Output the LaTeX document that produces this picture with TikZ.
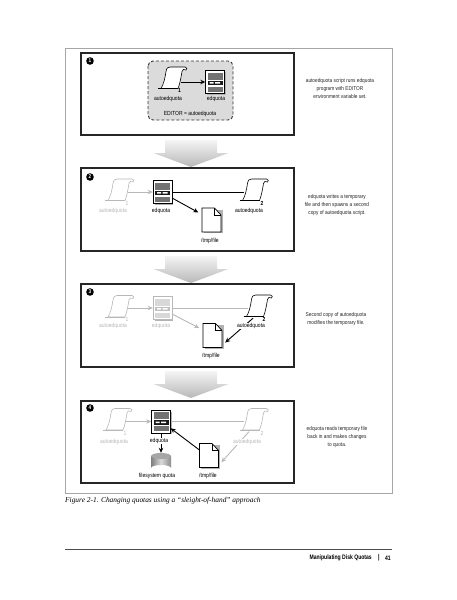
\documentclass[tikz,border=0pt]{standalone}
\usepackage{fontspec}
\setmainfont{Liberation Serif}
\newfontfamily\condfont[FakeStretch=0.85]{Liberation Sans}
\newfontfamily\footfont[FakeStretch=0.78]{Liberation Sans}
\usetikzlibrary{arrows.meta}
\begin{document}
\begin{tikzpicture}[x=1pt, y=-1pt,
    faded/.style={color=black!28},
    iconbox/.style={inner sep=0pt, minimum width=18pt, minimum height=23pt},
    panel/.style={draw=black!85, line width=1.2pt, fill=white},
    lbl/.style={font=\condfont\fontsize{5.9}{7}\selectfont, inner sep=0.5pt},
    note/.style={font=\condfont\fontsize{5.6}{7.8}\selectfont, align=center, inner sep=0pt, text=black!85},
    stepnum/.style={circle, fill=black, text=white, inner sep=0pt, minimum size=7.6pt, font=\condfont\bfseries\fontsize{5.5}{6}\selectfont},
    conn/.style={-{Stealth[length=5pt,width=4.5pt]}, line width=0.9pt},
    scrollicon/.pic={
      \draw [fill=white, line width=0.6pt] (-11,10) .. controls (-8.5,6) and (-7,0) .. (-6,-7) .. controls (-5.5,-10.5) and (-4,-11.5) .. (-2,-11.5) -- (13,-11.5) .. controls (15,-11.5) and (15.5,-9) .. (14,-8.5) .. controls (12,-9.5) and (10.5,-9.5) .. (10,-7) .. controls (9,-1) and (8,5) .. (6,10) -- cycle;
      \draw [line width=1.3pt] (-14,10.3) -- (6,10.3);
    },
    servericon/.pic={
      \fill [black!30] (-8,-10) rectangle (10.5,12.5);
      \draw [fill=white, line width=1pt] (-9.5,-11.5) rectangle (9.5,11.5);
      \fill [.!55] (-7.5,-9.5) rectangle (7.5,-2.5);
      \fill [.!90] (-7.5,-1.5) rectangle (7.5,3);
      \fill [white] (-5.5,0) rectangle (-1.5,1.5) (0,0) rectangle (5,1.5);
      \fill [.!55] (-7.5,4.5) rectangle (7.5,9.5);
    },
    fileicon/.pic={
      \fill [black!30] (-8,-10.5) -- (11,-10.5) -- (11,13) -- (-8,13) -- cycle;
      \draw [fill=white, line width=0.7pt] (-9.5,-12) -- (3,-12) -- (9.5,-5) -- (9.5,12) -- (-9.5,12) -- cycle;
      \draw [line width=0.5pt] (3,-12) -- (3,-5) -- (9.5,-5);
    },
    diskicon/.pic={
      \shade [left color=black!50, right color=black!45, middle color=black!15] (-10,-6) -- (-10,6) arc [start angle=180, end angle=360, x radius=10, y radius=3] -- (10,-6) -- cycle;
      \fill [black!35] (0,-6) ellipse [x radius=10, y radius=3];
    },
    blockarrow/.pic={
      \shade [top color=black!4, bottom color=black!28] (-26,-27) -- (26,-27) -- (26,-14) -- (37.5,-14) -- (0,0) -- (-37.5,-14) -- (-26,-14) -- cycle;
    }]
  \useasboundingbox (0,0) rectangle (457,600);
  \fill [white] (0,0) rectangle (457,600);

  \draw [black!35, line width=0.9pt] (65,48) rectangle (392,493);

  \pic at (191,167) {blockarrow};
  \pic at (191,283) {blockarrow};
  \pic at (191,398) {blockarrow};

  \draw [panel] (81,53) rectangle (294,135);
  \draw [panel] (81,168) rectangle (294,251);
  \draw [panel] (81,284) rectangle (294,367);
  \draw [panel] (81,401) rectangle (294,483);

  \node [stepnum] (numa) at (90,61) {1};
  \node [stepnum] (numb) at (90,177) {2};
  \node [stepnum] (numc) at (90,292) {3};
  \node [stepnum] (numd) at (90,408) {4};

  % panel 1
  \draw [fill=black!14, draw=black!80, line width=0.9pt, densely dashed, rounded corners=5pt] (148,61) rectangle (233,120);
  \node [iconbox] (scripta) at (172,78.5) {};
  \node [iconbox, minimum width=19pt] (edita) at (215,82) {};
  \pic at (scripta) {scrollicon};
  \pic at (edita) {servericon};
  \draw [conn] (scripta.east |- edita) -- (edita.west);
  \node [lbl] (numsa) at (179.5,90) {\bfseries 1};
  \node [lbl] (lblsa) at (168,98.5) {autoedquota};
  \node [lbl] (lblea) at (216,98.5) {edquota};
  \node [lbl] (lbleditor) at (190,114) {EDITOR = autoedquota};
  \node [note] (notea) at (340,88.5) {autoedquota script runs edquota\\program with EDITOR\\environment variable set.};

  % panel 2
  \node [iconbox] (scriptb) at (119,190.5) {};
  \node [iconbox, minimum width=19pt] (editb) at (162.5,192) {};
  \node [iconbox] (scriptbb) at (253.5,190.5) {};
  \node [iconbox, minimum width=19pt, minimum height=24pt] (fileb) at (211.5,220) {};
  \draw [conn, black!28] (scriptb.east |- editb) -- (editb.west);
  \draw [line width=0.9pt] (editb.east) -- (scriptbb.west |- editb);
  \pic [faded] at (scriptb) {scrollicon};
  \pic at (editb) {servericon};
  \pic at (scriptbb) {scrollicon};
  \pic at (fileb) {fileicon};
  \draw [conn, shorten >=4pt] (editb.-32) -- (fileb.150);
  \node [lbl, black!28] (numsb) at (127,203) {1};
  \node [lbl, black!28] (lblsb) at (113,211) {autoedquota};
  \node [lbl] (lbleb) at (161,211) {edquota};
  \node [lbl] (numsbb) at (262,203) {\bfseries 2};
  \node [lbl] (lblsbb) at (249,211) {autoedquota};
  \node [lbl] (lblfb) at (210,241) {/tmp/file};
  \node [note] (noteb) at (337,205) {edquota writes a temporary\\file and then spawns a second\\copy of autoedquota script.};

  % panel 3
  \node [iconbox] (scriptc) at (119,307) {};
  \node [iconbox, minimum width=19pt] (editc) at (162.5,308) {};
  \node [iconbox] (scriptcc) at (257.5,306.5) {};
  \node [iconbox, minimum width=19pt, minimum height=24pt] (filec) at (212.5,335.5) {};
  \draw [conn, black!28] (scriptc.east |- editc) -- (editc.west);
  \draw [black!28, line width=0.9pt] (editc.east) -- (scriptcc.west |- editc);
  \draw [conn, black!28, shorten >=4pt] (editc.-32) -- (filec.150);
  \draw [conn, shorten >=4pt] (scriptcc.-111) -- (filec.-45);
  \pic [faded] at (scriptc) {scrollicon};
  \pic [faded] at (editc) {servericon};
  \pic at (scriptcc) {scrollicon};
  \pic at (filec) {fileicon};
  \node [lbl, black!28] (numsc) at (127,319) {1};
  \node [lbl, black!28] (lblsc) at (113,326) {autoedquota};
  \node [lbl, black!28] (lblec) at (161,326) {edquota};
  \node [lbl] (numscc) at (264,319) {\bfseries 2};
  \node [lbl, fill=white] (lblscc) at (251,326) {autoedquota};
  \node [lbl] (lblfc) at (211,356) {/tmp/file};
  \node [note] (notec) at (336,319) {Second copy of autoedquota\\modifies the temporary file.};

  % panel 4
  \node [iconbox] (scriptd) at (117,420) {};
  \node [iconbox, minimum width=19pt] (editd) at (161,421.5) {};
  \node [iconbox] (scriptdd) at (253.5,420) {};
  \node [iconbox, minimum width=19pt, minimum height=24pt] (filed) at (209,455.5) {};
  \node [iconbox, minimum width=20pt, minimum height=18pt] (diskd) at (161,462) {};
  \draw [conn, black!28] (scriptd.east |- editd) -- (editd.west);
  \draw [black!28, line width=0.9pt] (editd.east) -- (scriptdd.west |- editd);
  \draw [conn, black!28, shorten >=4pt] (scriptdd.-111) -- (filed.-45);
  \pic [faded] at (scriptd) {scrollicon};
  \pic at (editd) {servericon};
  \pic [faded] at (scriptdd) {scrollicon};
  \pic at (filed) {fileicon};
  \pic at (diskd) {diskicon};
  \draw [conn] (filed.150) -- (editd.-35);
  \draw [conn] (editd.south) -- (diskd.north);
  \node [lbl, black!28] (numsd) at (125,433) {1};
  \node [lbl, black!28] (lblsd) at (114,442) {autoedquota};
  \node [lbl, fill=white] (lbled) at (159,441) {edquota};
  \node [lbl, black!28] (numsdd) at (262,433) {2};
  \node [lbl, black!28, fill=white] (lblsdd) at (247,442) {autoedquota};
  \node [lbl] (lblfd) at (208,476) {/tmp/file};
  \node [lbl] (lbldisk) at (157,476) {filesystem quota};
  \node [note] (noted) at (337,437) {edquota reads temporary file\\back in and makes changes\\to quota.};

  \node [anchor=west, inner sep=0pt, font=\itshape\fontsize{7.4}{9}\selectfont] (caption) at (65,501) {Figure 2-1. Changing quotas using a ``sleight-of-hand'' approach};

  \draw [black!70, line width=0.6pt] (65,549) -- (392,549);
  \node [anchor=east, inner sep=0pt, font=\footfont\bfseries\fontsize{6.5}{8}\selectfont] (foottitle) at (372,558) {Manipulating Disk Quotas};
  \node [inner sep=0pt, font=\footfont\bfseries\fontsize{7}{8}\selectfont] (footbar) at (379,558) {|};
  \node [anchor=east, inner sep=0pt, font=\footfont\bfseries\fontsize{6.5}{8}\selectfont] (footpage) at (391,558) {41};
\end{tikzpicture}
\end{document}
